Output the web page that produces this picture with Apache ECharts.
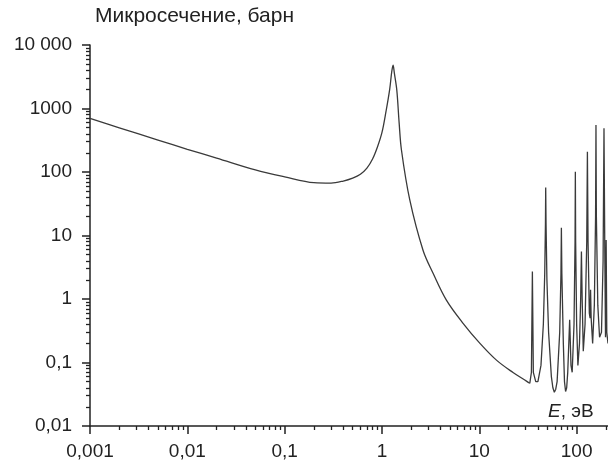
<!DOCTYPE html>
<html><head><meta charset="utf-8">
<script src="https://cdn.jsdelivr.net/npm/echarts@6/dist/echarts.min.js"></script>
<style>html,body{margin:0;padding:0;background:#fff}#c{width:608px;height:468px}</style>
</head><body><div id="c"></div>
<script>
// Smooth part: energy (eV) and microscopic cross-section (barn)
const energyLow = [0.001,0.002,0.005,0.01,0.02,0.05,0.1,0.2,0.3,0.4,0.5,0.6,0.7,0.8,0.9,1.0,1.1,1.2,1.26,1.3,1.34,1.42,1.5,1.585,1.93,2.64,3.35,4.59,6.81,10.1,15,22.2,30.5,33];
const sigmaLow  = [700,497,318,228,166,108,84,68,67,72,80,92,115,160,250,420,900,2000,3800,4800,3600,1950,600,222,36.3,5.87,2.54,0.96,0.414,0.202,0.109,0.0696,0.0509,0.047];
// Resonance region: energy (eV) and cross-section (barn)
const energyHigh = [33,34.3,35.1,35.9,38,40,43,45.5,47,47.8,48.1,48.5,49.5,51.5,55,57,59,61,63,67,69,69.7,70.5,73,75,77,79,81,84.8,87.5,90,94,96.3,97,97.7,100,103,107,110,112,114,117,122,127,129,131,135,137.5,139,141,146,152,156.5,158,159.5,165,172,180,187,191,195,198,201,204,210];
const sigmaHigh  = [0.047,0.07,2.7,0.07,0.05,0.05,0.09,0.4,2.5,15,57,15,2,0.3,0.06,0.04,0.034,0.038,0.05,0.3,2.5,13.3,2.5,0.2,0.05,0.035,0.04,0.07,0.47,0.09,0.07,0.4,8,101,8,0.4,0.09,0.2,1,5.6,1,0.15,0.4,8,209,8,0.6,0.5,1.4,0.5,0.2,0.8,20,550,20,0.8,0.25,0.3,4,488,4,0.25,8.5,0.3,0.2];
const xMajor = [0.001,0.01,0.1,1,10,100];
const yMajor = [0.01,0.1,1,10,100,1000,10000];
const yTitle = 'Микросечение, барн';
const xTitleItalic = 'E';
const xTitleRest = ', эВ';

function minors(lo, hi){ const out=[]; for(let d=lo; d<hi*1.0001; d*=10){ for(let k=2;k<=9;k++) out.push(+(k*d).toPrecision(3)); } return out; }
const xMinor = minors(0.001, 100).filter(v=>v<=210);
const yMinor = minors(0.01, 1000);
const fmt = v => v >= 10000 ? '10 000' : String(v).replace('.', ',');
const font = "'Liberation Sans', Arial, sans-serif";
const dataLow = energyLow.map((e,i)=>[e, sigmaLow[i]]);
const dataHigh = energyHigh.map((e,i)=>[e, sigmaHigh[i]]);

const chart = echarts.init(document.getElementById('c'), null, {renderer:'canvas'});
const axisCommon = {type:'log', logBase:10, splitLine:{show:false}, minorTick:{show:false}};
const lineStyle = {color:'#3a3a3a', width:1.3};
chart.setOption({
  animation:false,
  backgroundColor:'#fff',
  title:[
    {text:yTitle, left:95, top:6, padding:0, textStyle:{fontFamily:font, fontSize:21, fontWeight:'normal', color:'#222'}},
    {text:'{i|'+xTitleItalic+'}'+xTitleRest, left:548, top:402, padding:0, textStyle:{fontFamily:font, fontSize:19, fontWeight:'normal', color:'#222', rich:{i:{fontFamily:font, fontSize:19, fontStyle:'italic', color:'#222'}}}}
  ],
  grid:{left:90, right:0, top:45, bottom:42, outerBoundsMode:'none', containLabel:false},
  xAxis:[
    Object.assign({}, axisCommon, {min:0.001, max:210, position:'bottom',
      axisLine:{show:true, lineStyle:{color:'#222', width:1.5}},
      axisTick:{show:true, customValues:xMajor, length:8, lineStyle:{color:'#222', width:1.5}},
      axisLabel:{show:true, customValues:xMajor, formatter:fmt, margin:16, fontFamily:font, fontSize:19, color:'#222'}}),
    Object.assign({}, axisCommon, {min:0.001, max:210, position:'bottom',
      axisLine:{show:false},
      axisTick:{show:true, customValues:xMinor, length:4, lineStyle:{color:'#222', width:1.3}},
      axisLabel:{show:false}})
  ],
  yAxis:[
    Object.assign({}, axisCommon, {min:0.01, max:10000, position:'left',
      axisLine:{show:true, lineStyle:{color:'#222', width:1.5}},
      axisTick:{show:true, customValues:yMajor, length:8, lineStyle:{color:'#222', width:1.5}},
      axisLabel:{show:true, customValues:yMajor, formatter:fmt, margin:18, fontFamily:font, fontSize:19, color:'#222'}}),
    Object.assign({}, axisCommon, {min:0.01, max:10000, position:'left',
      axisLine:{show:false},
      axisTick:{show:true, customValues:yMinor, length:4, lineStyle:{color:'#222', width:1.3}},
      axisLabel:{show:false}})
  ],
  series:[
    {type:'line', xAxisIndex:0, yAxisIndex:0, data:dataLow, showSymbol:false, smooth:0.35, lineStyle:lineStyle},
    {type:'line', xAxisIndex:0, yAxisIndex:0, data:dataHigh, showSymbol:false, smooth:false, lineStyle:lineStyle}
  ]
});
</script></body></html>
